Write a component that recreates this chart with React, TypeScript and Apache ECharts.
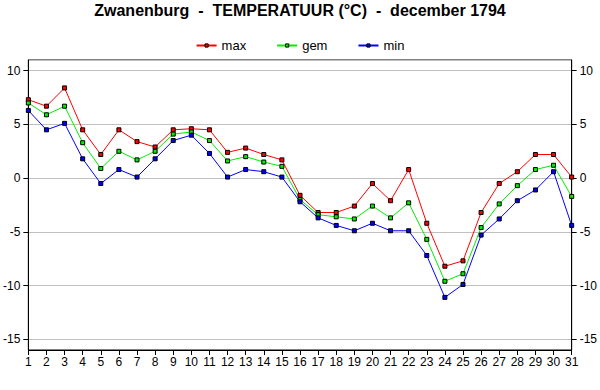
import React, { useEffect, useRef } from "react";
import * as echarts from "echarts";

const days = ["1","2","3","4","5","6","7","8","9","10","11","12","13","14","15","16","17","18","19","20","21","22","23","24","25","26","27","28","29","30","31"];
const maxTemp = [7.3,6.7,8.4,4.5,2.2,4.5,3.4,2.9,4.5,4.6,4.5,2.4,2.8,2.2,1.7,-1.6,-3.2,-3.2,-2.6,-0.5,-2.1,0.8,-4.2,-8.2,-7.7,-3.2,-0.5,0.6,2.2,2.2,0.1];
const gemTemp = [7.0,5.9,6.7,3.3,0.9,2.5,1.7,2.5,4.1,4.3,3.5,1.6,2.0,1.5,1.1,-2.0,-3.4,-3.6,-3.8,-2.6,-3.7,-2.3,-5.7,-9.6,-8.9,-4.6,-2.4,-0.7,0.8,1.2,-1.7];
const minTemp = [6.3,4.5,5.1,1.8,-0.5,0.8,0.1,1.8,3.5,4.0,2.3,0.1,0.8,0.6,0.1,-2.2,-3.7,-4.4,-4.9,-4.2,-4.9,-4.9,-7.2,-11.1,-9.9,-5.3,-3.8,-2.1,-1.1,0.6,-4.4];
const seriesNames = ["max", "gem", "min"];
const seriesColors = ["#ff0000", "#00ee00", "#0000ff"];
const titleText = "Zwanenburg  -  TEMPERATUUR (°C)  -  december 1794";

const FONT = "'Liberation Sans', Arial, sans-serif";

export default function App() {
  const ref = useRef<HTMLDivElement>(null);
  useEffect(() => {
    if (!ref.current) return;
    const chart = echarts.init(ref.current, undefined, { renderer: "svg" });
    const yAxisCommon = (pos: "left" | "right") => ({
      type: "value" as const,
      position: pos,
      min: -16,
      max: 11,
      splitNumber: 5,
      axisLine: { show: true, onZero: false, lineStyle: { color: "#000", width: 1 } },
      axisTick: { show: true, inside: false, length: 5, lineStyle: { color: "#000" } },
      axisLabel: {
        color: "#000",
        fontSize: 12,
        fontFamily: FONT,
        margin: 8,
        showMinLabel: false,
        showMaxLabel: false,
      },
      splitLine: { show: pos === "left", lineStyle: { color: "#c0c0c0", width: 1 } },
    });
    const datasets = [maxTemp, gemTemp, minTemp];
    chart.setOption({
      animation: false,
      backgroundColor: "#fff",
      textStyle: { fontFamily: FONT },
      title: {
        text: titleText,
        left: "center",
        top: 2,
        padding: 0,
        textStyle: { fontFamily: FONT, fontSize: 16, fontWeight: "bold", color: "#000" },
      },
      legend: {
        top: 34,
        left: "center",
        itemWidth: 20,
        itemHeight: 4,
        itemGap: 30,
        itemStyle: { borderColor: "#000", borderWidth: 1 },
        textStyle: { fontFamily: FONT, fontSize: 13, color: "#000" },
        data: seriesNames,
      },
      grid: {
        left: 25,
        right: 25,
        top: 60,
        bottom: 40,
        show: true,
        borderColor: "#000",
        borderWidth: 1,
        backgroundColor: "transparent",
      },
      xAxis: {
        type: "category",
        data: days,
        boundaryGap: false,
        axisLine: { show: true, onZero: false, lineStyle: { color: "#000" } },
        axisTick: { show: true, inside: false, length: 5, alignWithLabel: true, lineStyle: { color: "#000" } },
        axisLabel: { color: "#000", fontSize: 12, fontFamily: FONT, margin: 6, interval: 0 },
        splitLine: { show: false },
      },
      yAxis: [yAxisCommon("left"), yAxisCommon("right")],
      series: seriesNames.map((name, i) => ({
        name,
        type: "line",
        data: datasets[i],
        yAxisIndex: 0,
        symbol: "rect",
        symbolSize: 4,
        showSymbol: true,
        lineStyle: { color: seriesColors[i], width: 1 },
        itemStyle: { color: seriesColors[i], borderColor: "#000", borderWidth: 1 },
        emphasis: { disabled: true },
      })),
    });
    return () => chart.dispose();
  }, []);
  return (
    <div
      ref={ref}
      style={{ position: "fixed", left: 0, top: 0, width: 600, height: 390, background: "#fff" }}
    />
  );
}
